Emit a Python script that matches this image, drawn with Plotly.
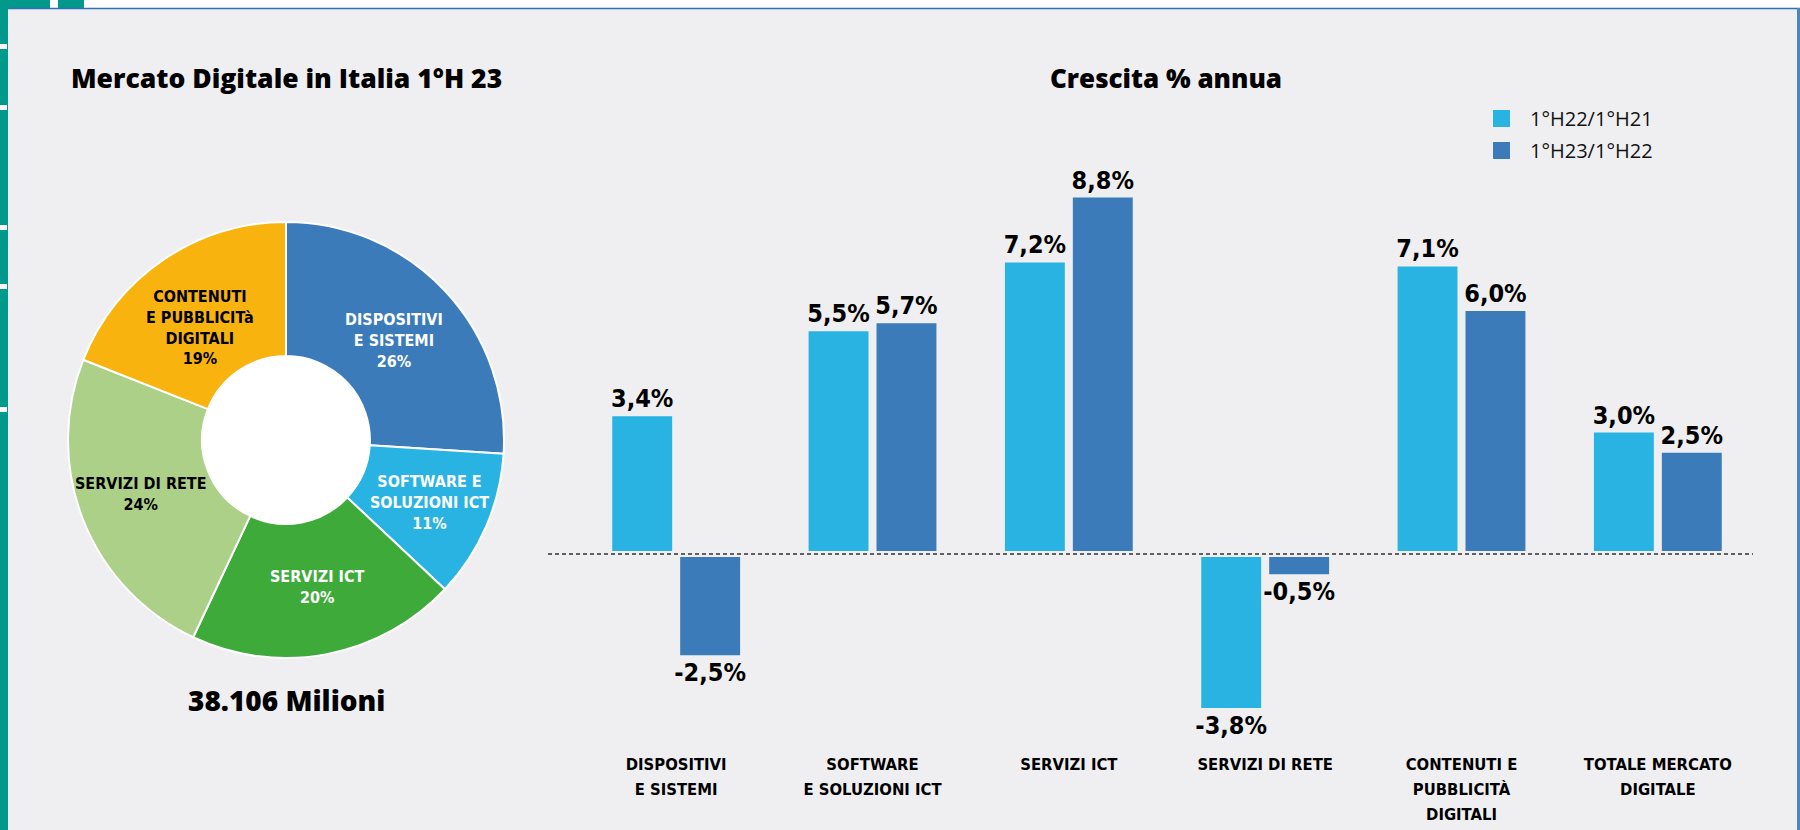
import plotly.graph_objects as go

# ---- data -------------------------------------------------------------
pie_labels = ["DISPOSITIVI<br>E SISTEMI", "SOFTWARE E<br>SOLUZIONI ICT", "SERVIZI ICT",
              "SERVIZI DI RETE", "CONTENUTI<br>E PUBBLICITà<br>DIGITALI"]
pie_shares = [26, 11, 20, 24, 19]
market_total = 38106  # milioni di euro

categories = ["DISPOSITIVI<br>E SISTEMI", "SOFTWARE<br>E SOLUZIONI ICT", "SERVIZI ICT",
              "SERVIZI DI RETE", "CONTENUTI E<br>PUBBLICITÀ<br>DIGITALI",
              "TOTALE MERCATO<br>DIGITALE"]
series_names = ["1°H22/1°H21", "1°H23/1°H22"]
growth_h22 = [3.4, 5.5, 7.2, -3.8, 7.1, 3.0]
growth_h23 = [-2.5, 5.7, 8.8, -0.5, 6.0, 2.5]

# ---- style ------------------------------------------------------------
W, H = 1800, 830
BG = "#efeff1"
TEAL = "#00998c"
FRAME_BLUE = "#2f6fb5"
pie_colors = ["#3b7bba", "#29b3e2", "#3eaa3a", "#acd088", "#f8b30f"]
pie_text_colors = ["white", "white", "white", "black", "black"]
bar_colors = ["#29b3e2", "#3b7bba"]
COND = "Liberation Sans Narrow, DejaVu Sans Condensed, Arial Narrow, sans-serif"
HEAD = "Open Sans, Lato, DejaVu Sans, sans-serif"


def px(x):
    return x / W


def py(y):
    return 1 - y / H


fig = go.Figure()

# ---- donut ------------------------------------------------------------
fig.add_trace(go.Pie(
    labels=pie_labels, values=pie_shares, sort=False, direction="clockwise",
    rotation=0, hole=0.385, textinfo="none", hoverinfo="label+percent",
    marker=dict(colors=pie_colors, line=dict(color="white", width=2)),
    domain=dict(x=[px(68), px(504)], y=[py(658), py(222)]),
    showlegend=False,
))

# ---- grouped bars -----------------------------------------------------
for name, vals, col in zip(series_names, [growth_h22, growth_h23], bar_colors):
    fig.add_trace(go.Bar(
        x=categories, y=vals, name=name, marker=dict(color=col, line=dict(width=0)),
        texttemplate="%{y:.1f}%", textposition="outside", cliponaxis=False,
        textfont=dict(family=COND, size=25, color="black", weight="bold"),
        constraintext="none", showlegend=False,
    ))

# axis scale: zero at y=554 px, 40.5 px per percentage point
plot_bottom_px = 742
zero_px, unit_px = 554, 40.5
y_top = zero_px / unit_px
y_bottom = -(plot_bottom_px - zero_px) / unit_px

# category labels: smaller glyphs on a wider line pitch
tick_text = ["<br>".join(f'<span style="font-size:16.5px">{part}</span>'
                         for part in cat.split("<br>")) for cat in categories]

shapes = []
annotations = []

# panel frame
shapes += [
    dict(type="rect", xref="paper", yref="paper", x0=0, x1=1, y0=py(8), y1=1,
         fillcolor="white", line_width=0, layer="below"),
    dict(type="rect", xref="paper", yref="paper", x0=0, x1=px(8), y0=0, y1=1,
         fillcolor=TEAL, line_width=0, layer="below"),
    dict(type="rect", xref="paper", yref="paper", x0=0, x1=px(50), y0=py(8), y1=1,
         fillcolor=TEAL, line_width=0, layer="below"),
    dict(type="rect", xref="paper", yref="paper", x0=px(58), x1=px(84), y0=py(8), y1=1,
         fillcolor=TEAL, line_width=0, layer="below"),
    dict(type="line", xref="paper", yref="paper", x0=px(8), x1=1, y0=py(8.5), y1=py(8.5),
         line=dict(color=FRAME_BLUE, width=1.5), layer="below"),
    dict(type="rect", xref="paper", yref="paper", x0=px(1797), x1=1, y0=0, y1=py(8),
         fillcolor="#4a86c5", line_width=0, layer="below"),
]
for ny in [44, 105, 225, 284, 407]:
    shapes.append(dict(type="rect", xref="paper", yref="paper", x0=0, x1=px(7),
                       y0=py(ny + 5), y1=py(ny), fillcolor="white", line_width=0,
                       layer="below"))

# white centre of the donut
shapes.append(dict(type="circle", xref="paper", yref="paper",
                   x0=px(286 - 86), x1=px(286 + 86), y0=py(440 + 86), y1=py(440 - 86),
                   fillcolor="white", line_width=0, layer="below"))

# zero line: background band then dashed rule
shapes.append(dict(type="line", xref="paper", yref="y", x0=px(548), x1=px(1753), y0=0, y1=0,
                   line=dict(color=BG, width=6), layer="above"))
shapes.append(dict(type="line", xref="paper", yref="y", x0=px(548), x1=px(1753), y0=0, y1=0,
                   line=dict(color="#333333", width=1.5, dash="4px,3px"), layer="above"))

# legend
for i, (name, col) in enumerate(zip(series_names, bar_colors)):
    top = 110 + 32 * i
    shapes.append(dict(type="rect", xref="paper", yref="paper", x0=px(1493), x1=px(1510),
                       y0=py(top + 17), y1=py(top), fillcolor=col, line_width=0))
    annotations.append(dict(x=px(1528), y=py(top + 9), xref="paper", yref="paper",
                            text=name, showarrow=False, xanchor="left", yanchor="middle",
                            font=dict(family=HEAD, size=20, color="#111111")))

# donut slice labels
label_pos = [(394, 340), (429, 502), (317, 587), (140, 494), (200, 327)]
for lab, share, (lx, ly), tc in zip(pie_labels, pie_shares, label_pos, pie_text_colors):
    annotations.append(dict(x=px(lx), y=py(ly), xref="paper", yref="paper",
                            text=f"{lab}<br>{share}%", showarrow=False,
                            xanchor="center", yanchor="middle", align="center",
                            font=dict(family=COND, size=16, color=tc, weight="bold")))

# titles
annotations += [
    dict(x=px(69), y=py(78), xref="paper", yref="paper", text="Mercato Digitale in Italia 1°H 23",
         showarrow=False, xanchor="left", yanchor="middle",
         font=dict(family=HEAD, size=26.5, color="black", weight=800)),
    dict(x=px(1166), y=py(78), xref="paper", yref="paper", text="Crescita % annua",
         showarrow=False, xanchor="center", yanchor="middle",
         font=dict(family=HEAD, size=26, color="black", weight=800)),
    dict(x=px(286), y=py(700), xref="paper", yref="paper",
         text=f"{market_total:,} Milioni".replace(",", "."),
         showarrow=False, xanchor="center", yanchor="middle",
         font=dict(family=HEAD, size=28, color="black", weight=800)),
]

fig.update_layout(
    width=W, height=H, margin=dict(l=0, r=0, t=0, b=0),
    paper_bgcolor=BG, plot_bgcolor="rgba(0,0,0,0)",
    separators=",.",
    barmode="group", bargap=0.308, bargroupgap=0.118,
    xaxis=dict(domain=[px(578), px(1756)], range=[-0.5, 5.5], showgrid=False,
               zeroline=False, showline=False, ticks="",
               tickvals=categories, ticktext=tick_text, ticklabelstandoff=7,
               tickfont=dict(family=COND, size=19.5, color="black", weight="bold")),
    yaxis=dict(domain=[py(plot_bottom_px), 1], range=[y_bottom, y_top], visible=False,
               showgrid=False, zeroline=False),
    shapes=shapes, annotations=annotations,
    showlegend=False,
)

fig.write_html("out.html")
